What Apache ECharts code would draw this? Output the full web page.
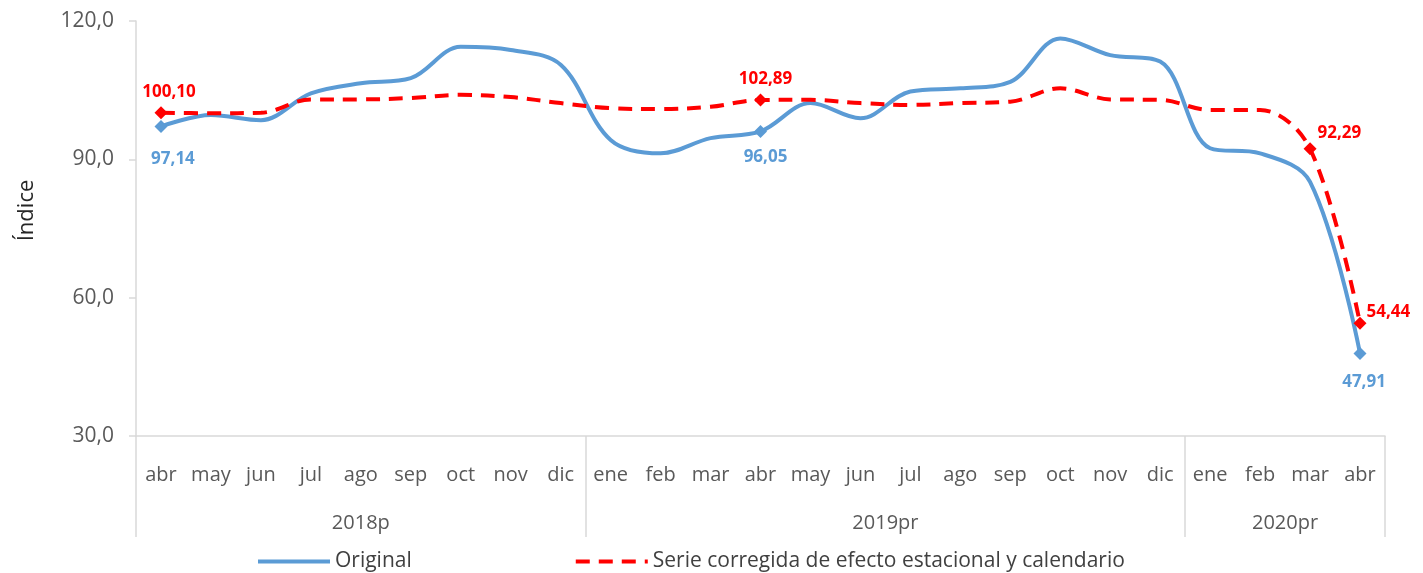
<!DOCTYPE html>
<html>
<head>
<meta charset="utf-8">
<script src="https://cdn.jsdelivr.net/npm/echarts@6/dist/echarts.min.js"></script>
<style>
  html, body { margin: 0; padding: 0; background: #fff; }
  #chart { width: 1423px; height: 573px; }
</style>
</head>
<body>
<div id="chart"></div>
<script>
// meses abr 2018 - abr 2020
const meses = ['abr', 'may', 'jun', 'jul', 'ago', 'sep', 'oct', 'nov', 'dic',
  'ene', 'feb', 'mar', 'abr', 'may', 'jun', 'jul', 'ago', 'sep', 'oct', 'nov', 'dic',
  'ene', 'feb', 'mar', 'abr']
const anios = ['2018p', '2019pr', '2020pr']
const mesesPorAnio = [9, 12, 4]

const original = [97.14, 99.6, 98.5, 104.3, 106.5, 107.6, 114.4, 113.7, 110.5,
  94.2, 91.3, 94.6, 96.05, 102.2, 98.9, 104.7, 105.4, 106.8, 116.2, 112.6, 111.2,
  92.4, 91.3, 85.1, 47.91]
const corregida = [100.10, 100.0, 100.1, 103.0, 103.0, 103.3, 104.0, 103.5, 102.2,
  101.1, 100.9, 101.4, 102.89, 102.9, 102.2, 101.8, 102.2, 102.5, 105.4, 103.0, 102.9,
  100.7, 100.7, 92.29, 54.44]

const marcasOriginal = [0, 12, 24]
const marcasCorregida = [0, 12, 23, 24]

const yTicks = [30, 60, 90, 120]

const azul = '#5b9bd5'
const rojo = '#ff0000'
const fuente = "'Open Sans', 'Roboto', sans-serif"

function coma(v, d) {
  return v.toFixed(d).replace('.', ',')
}

// eje de años: posiciones cada medio mes (boundaryGap false)
let n = meses.length * 2 + 1
let anioData = []
let separadores = [0]
let acum = 0
for (let i = 0; i < n; i++) anioData.push('')
mesesPorAnio.forEach((m, k) => {
  anioData[acum * 2 + m] = anios[k]
  acum += m
  separadores.push(acum * 2)
})

const labelsCorregida = {
  0: { position: 'top', distance: 6, offset: [8, 0] },
  12: { position: 'top', distance: 6, offset: [5, 0] },
  23: { position: 'right', distance: 1, offset: [0, -16] },
  24: { position: 'right', distance: 0, offset: [0, -11] }
}
const labelsOriginal = {
  0: { position: 'bottom', distance: 18, offset: [12, 0] },
  12: { position: 'bottom', distance: 11, offset: [5, 0] },
  24: { position: 'bottom', distance: 14, offset: [4, 0] }
}

function armar(valores, marcas, labels, color) {
  return valores.map((v, i) => {
    let marcado = marcas.includes(i)
    let item = { value: v, symbolSize: marcado ? 13 : 0 }
    if (marcado) {
      item.label = Object.assign({
        show: true,
        color: color,
        fontWeight: 'bold',
        fontSize: 17,
        fontFamily: fuente,
        formatter: p => coma(p.value, 2)
      }, labels[i])
    }
    return item
  })
}

const chart = echarts.init(document.getElementById('chart'))

const option = {
  animation: false,
  grid: { left: 136, right: 38, top: 21, bottom: 137 },
  legend: {
    left: 251,
    top: 546,
    itemWidth: 72,
    itemHeight: 14,
    itemGap: 162,
    itemStyle: { opacity: 0 },
    lineStyle: { width: 4 },
    textStyle: { fontSize: 21, color: '#404040', fontFamily: fuente },
    data: ['Original', 'Serie corregida de efecto estacional y calendario']
  },
  xAxis: [{
    type: 'category',
    data: meses,
    axisLine: { lineStyle: { color: '#d9d9d9', width: 1.5 } },
    axisTick: { show: false },
    axisLabel: { interval: 0, margin: 29, fontSize: 20, color: '#595959', fontFamily: fuente }
  }, {
    type: 'category',
    position: 'bottom',
    boundaryGap: false,
    data: anioData,
    axisLine: { show: false },
    axisTick: {
      show: true,
      length: 101,
      interval: (i) => separadores.includes(i),
      lineStyle: { color: '#d9d9d9', width: 1.5 }
    },
    axisLabel: { interval: 0, margin: 77, fontSize: 20, color: '#595959', fontFamily: fuente }
  }],
  yAxis: {
    type: 'value',
    min: yTicks[0],
    max: yTicks[yTicks.length - 1],
    interval: 30,
    name: 'Índice',
    nameLocation: 'middle',
    nameRotate: 90,
    nameGap: 98,
    nameTextStyle: { fontSize: 22, color: '#262626', fontFamily: fuente, padding: [0, 0, 0, 36] },
    axisLine: { show: true, lineStyle: { color: '#d9d9d9', width: 1.5 } },
    axisTick: { show: true, length: 7, lineStyle: { color: '#d9d9d9', width: 1.5 } },
    splitLine: { show: false },
    axisLabel: { margin: 22, fontSize: 21, color: '#595959', fontFamily: fuente, formatter: v => coma(v, 1) }
  },
  series: [{
    name: 'Original',
    type: 'line',
    smooth: 0.35,
    symbol: 'diamond',
    showSymbol: true,
    data: armar(original, marcasOriginal, labelsOriginal, azul),
    itemStyle: { color: azul },
    lineStyle: { color: azul, width: 4 },
    z: 2
  }, {
    name: 'Serie corregida de efecto estacional y calendario',
    type: 'line',
    smooth: 0.35,
    symbol: 'diamond',
    showSymbol: true,
    data: armar(corregida, marcasCorregida, labelsCorregida, rojo),
    itemStyle: { color: rojo },
    lineStyle: { color: rojo, width: 4, type: [14, 9] },
    z: 3
  }]
}

chart.setOption(option)
</script>
</body>
</html>
